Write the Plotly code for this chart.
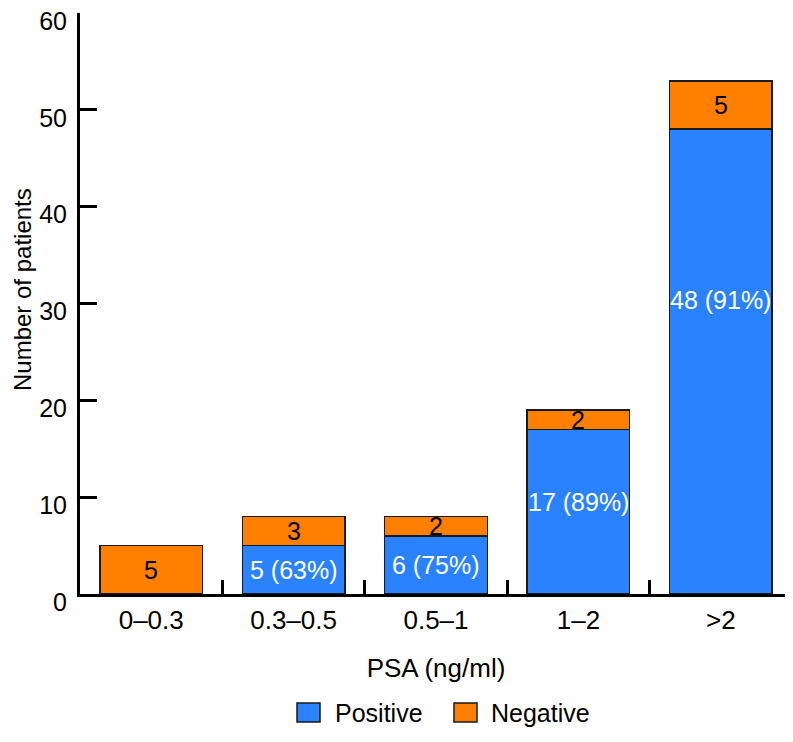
import plotly.graph_objects as go

categories = ["0–0.3", "0.3–0.5", "0.5–1", "1–2", ">2"]
positive = [0, 5, 6, 17, 48]
negative = [5, 3, 2, 2, 5]
positive_pct = [None, 63, 75, 89, 91]
# vertical anchor (in data units) of the white labels inside the blue bars
pos_label_y = [None, 2.5, 3.0, 9.5, 30.4]

BLUE = "#2B82FF"
ORANGE = "#FF8000"
EDGE = "#1a1a1a"
FONT = "Liberation Sans, Arial, Helvetica, sans-serif"
FS = 25

# the page body has an 8px margin, so the figure is shrunk and coordinates shifted
OFF = 8
W, H = 793 - OFF, 742 - OFF
L, R, T, B = 80 - OFF, 792 - OFF, 13 - OFF, 594 - OFF

fig = go.Figure()
fig.add_bar(
    x=categories, y=positive, name="Positive",
    marker=dict(color=BLUE, line=dict(color=EDGE, width=1.5)),
    width=0.72, showlegend=False,
)
fig.add_bar(
    x=categories, y=negative, name="Negative",
    marker=dict(color=ORANGE, line=dict(color=EDGE, width=1.5)),
    width=0.72, showlegend=False,
)

for c, p, n, pct, ly in zip(categories, positive, negative, positive_pct, pos_label_y):
    if p > 0 and pct is not None:
        fig.add_annotation(
            x=c, y=ly, text=f"{p} ({pct}%)", showarrow=False,
            font=dict(color="white", size=FS, family=FONT),
            xref="x", yref="y",
        )
    fig.add_annotation(
        x=c, y=p + n / 2, text=str(n), showarrow=False,
        font=dict(color="black", size=FS, family=FONT),
        xref="x", yref="y",
    )

# page pixel positions converted to paper coords
def px_x(v):
    return (v - OFF - L) / (R - L)
def px_y(v):
    return (B - (v - OFF)) / (B - T)

# y-axis title
fig.add_annotation(
    x=px_x(22), y=px_y(290), xref="paper", yref="paper",
    text="Number of patients", textangle=-90, showarrow=False,
    xanchor="center", yanchor="middle",
    font=dict(color="black", size=24, family=FONT),
)

# manual legend
legend_items = [("Positive", BLUE, 297, 333), ("Negative", ORANGE, 454, 489)]
for label, col, sx, tx in legend_items:
    fig.add_shape(
        type="rect", xref="paper", yref="paper",
        x0=px_x(sx), x1=px_x(sx + 23), y0=px_y(722), y1=px_y(703),
        fillcolor=col, line=dict(color=EDGE, width=1.5),
    )
    fig.add_annotation(
        x=px_x(tx), y=px_y(713), xref="paper", yref="paper",
        text=label, showarrow=False, xanchor="left", yanchor="middle",
        font=dict(color="black", size=FS, family=FONT),
    )

fig.update_layout(
    barmode="stack",
    width=W, height=H,
    margin=dict(l=L, r=W - R, t=T, b=H - B, pad=0),
    plot_bgcolor="white", paper_bgcolor="white",
    font=dict(family=FONT, size=FS, color="black"),
)
fig.update_xaxes(
    type="category", range=[-0.5, 4.5], automargin=False,
    showline=True, linecolor="black", linewidth=3,
    ticks="inside", tickson="boundaries", ticklen=14, tickwidth=3, tickcolor="black",
    showgrid=False, zeroline=False,
    ticklabelstandoff=1,
    title=dict(text="PSA (ng/ml)", standoff=25, font=dict(size=26, family=FONT)),
    tickfont=dict(size=26, family=FONT),
)
fig.update_yaxes(
    range=[0, 60], tickvals=[0, 10, 20, 30, 40, 50, 60], automargin=False,
    showline=True, linecolor="black", linewidth=3,
    ticks="inside", ticklen=17, tickwidth=3, tickcolor="black",
    showgrid=False, zeroline=False,
    ticklabelstandoff=5, ticklabelshift=8, ticklabeloverflow="allow",
    tickfont=dict(size=25, family=FONT),
)

fig.write_html("out.html")
